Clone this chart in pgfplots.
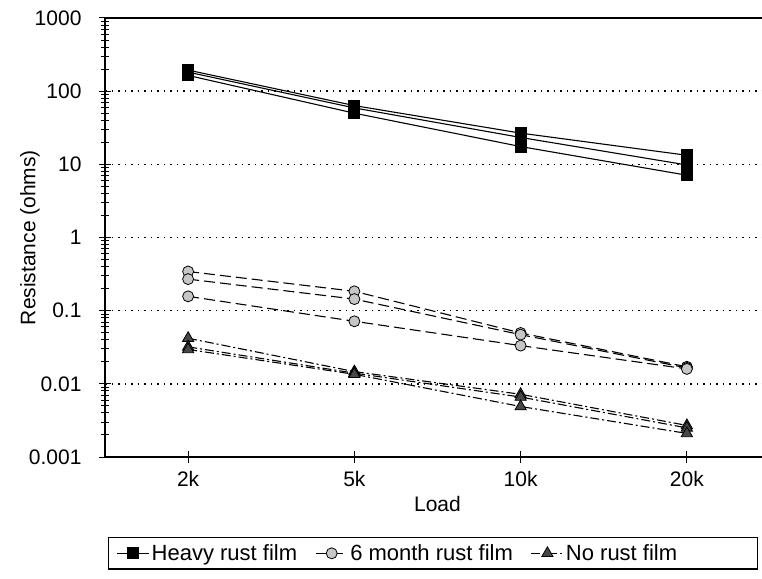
\documentclass[border=0pt]{standalone}
\usepackage{fontspec}
\setmainfont{Liberation Sans}
\usepackage{pgfplots}
\pgfplotsset{compat=1.18}
\pgfplotsset{
  heavy/.style={black, line width=1.1pt, solid, mark=square*, mark size=5.5pt, mark options={solid, fill=black}},
  six/.style={black, line width=1.1pt, dash pattern=on 11pt off 5pt, mark=*, mark size=5.5pt, mark options={solid, fill=gray!45, line width=0.8pt}},
  nrust/.style={black, line width=1.1pt, dash pattern=on 9pt off 3pt on 2pt off 3pt, mark=triangle*, mark size=6.5pt, mark options={solid, fill=black!72, line width=0.8pt}},
}
\begin{document}
\begin{tikzpicture}
\useasboundingbox (0,0) rectangle (762pt,578pt);
\begin{axis}[
  at={(105pt,121pt)}, anchor=south west,
  scale only axis, width=665pt, height=439pt,
  xmin=-0.5, xmax=3.5,
  ymode=log, ymin=1e-3, ymax=1e3,
  xtick={0,1,2,3}, xticklabels={2k,5k,10k,20k},
  ytick={1e-3,1e-2,1e-1,1,10,100,1000},
  yticklabels={0.001,0.01,0.1,1,10,100,1000},
  minor ytick={2e-3,3e-3,4e-3,5e-3,6e-3,7e-3,8e-3,9e-3,
               2e-2,3e-2,4e-2,5e-2,6e-2,7e-2,8e-2,9e-2,
               0.2,0.3,0.4,0.5,0.6,0.7,0.8,0.9,
               2,3,4,5,6,7,8,9,
               20,30,40,50,60,70,80,90,
               200,300,400,500,600,700,800,900},
  xtick pos=bottom, ytick pos=left,
  tick align=center,
  major tick length=12pt, minor tick length=7pt,
  every tick/.style={black, line width=1pt},
  axis line style={black, line width=1.3pt},
  ymajorgrids,
  major grid style={black, line width=1.5pt, dash pattern=on 1.5pt off 5pt},
  /pgf/number format/assume math mode=true,
  ticklabel style={font=\fontsize{21}{25}\selectfont},
  xticklabel style={yshift=-5pt},
  yticklabel style={xshift=-14pt},
  xlabel={Load},
  ylabel={Resistance (ohms)},
  label style={font=\fontsize{21}{25}\selectfont},
  xlabel style={at={(axis description cs:0.5,-0.107)}, anchor=center},
  ylabel style={at={(axis description cs:-0.113,0.5)}, anchor=center, rotate=0},
  legend columns=3,
  legend cell align=left,
  legend image code/.code={\draw[mark repeat=2,mark phase=2,#1] plot coordinates {(0pt,0pt) (16pt,0pt) (32pt,0pt)};},
  legend style={at={(0.0045,-0.1822)}, anchor=north west,
    draw=black, line width=1.2pt,
    font=\fontsize{22}{26}\selectfont,
    inner xsep=8pt, inner ysep=5pt,
    nodes={inner sep=2pt},
    /tikz/every even column/.append style={column sep=16pt}},
]
% Heavy rust film
\addplot[heavy] coordinates {(0,194) (1,63.5) (2,26.7) (3,13.3)};
\addlegendentry{Heavy rust film}
\addplot[heavy, forget plot] coordinates {(0,182) (1,59) (2,23.3) (3,9.8)};
\addplot[heavy, forget plot] coordinates {(0,164) (1,50) (2,17.5) (3,7.1)};
% 6 month rust film
\addplot[six] coordinates {(0,0.343) (1,0.184) (2,0.0496) (3,0.0171)};
\addlegendentry{6 month rust film}
\addplot[six, forget plot] coordinates {(0,0.270) (1,0.144) (2,0.047) (3,0.0165)};
\addplot[six, forget plot] coordinates {(0,0.157) (1,0.0716) (2,0.0333) (3,0.0160)};
% No rust film
\addplot[nrust] coordinates {(0,0.042) (1,0.0147) (2,0.0072) (3,0.0027)};
\addlegendentry{No rust film\hspace*{70pt}}
\addplot[nrust, forget plot] coordinates {(0,0.032) (1,0.0140) (2,0.0066) (3,0.0025)};
\addplot[nrust, forget plot] coordinates {(0,0.0295) (1,0.0135) (2,0.0049) (3,0.0021)};
\end{axis}
\end{tikzpicture}
\end{document}
